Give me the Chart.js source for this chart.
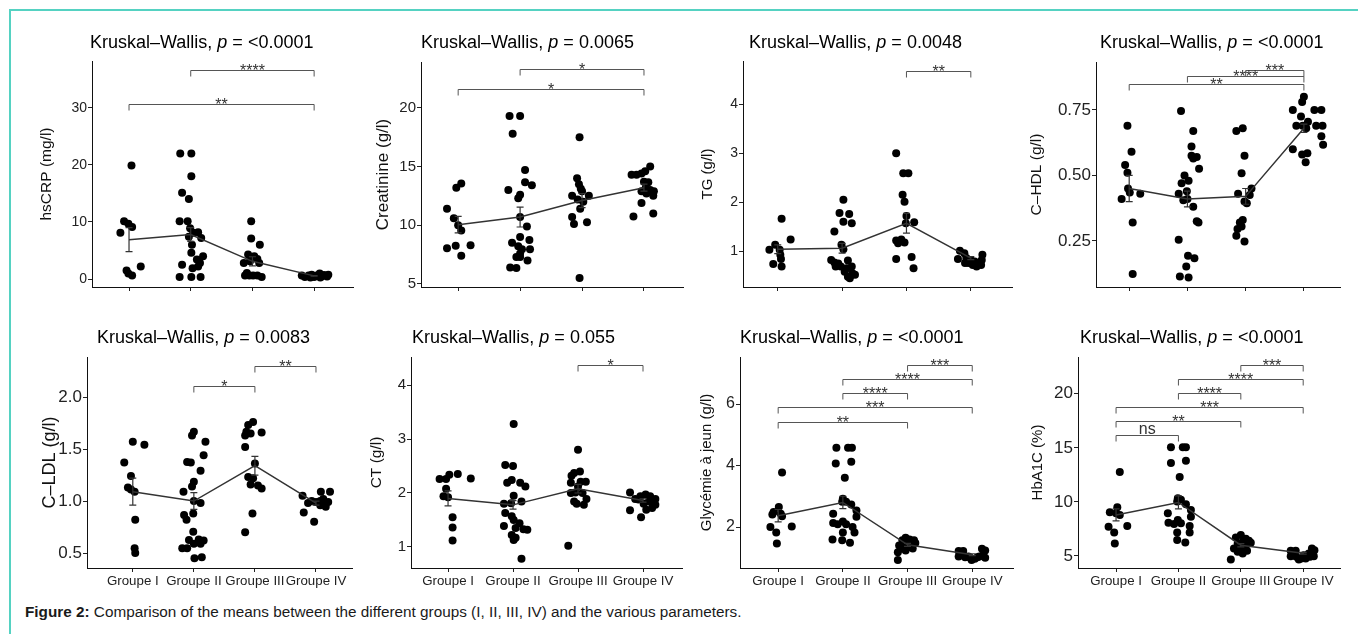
<!DOCTYPE html>
<html><head><meta charset="utf-8">
<script src="https://cdn.jsdelivr.net/npm/chart.js@4.4.1/dist/chart.umd.min.js"></script>
<style>
html,body{margin:0;padding:0;background:#fff;}
body{width:1358px;height:634px;position:relative;overflow:hidden;font-family:"Liberation Sans",Arial,sans-serif;}
canvas{position:absolute;left:0;top:0;}
#frameTop{position:absolute;left:9px;top:9px;width:1349px;height:0;border-top:2px solid #55d2c2;}
#frameLeft{position:absolute;left:9px;top:9px;width:0;height:625px;border-left:2px solid #55d2c2;}
#caption{position:absolute;left:25px;top:603px;font-size:15.3px;color:#1a1a1a;white-space:nowrap;}
</style></head><body>
<div id="frameTop"></div><div id="frameLeft"></div>
<div id="caption"><b>Figure 2:</b> Comparison of the means between the different groups (I, II, III, IV) and the various parameters.</div>
<script>
const FAM = '"Liberation Sans", Arial, sans-serif';
const groups = ['Groupe I', 'Groupe II', 'Groupe III', 'Groupe IV'];

// ---------- hsCRP ----------
const hsCRP_vals = [
  [19.9, 10.1, 9.7, 9.1, 8.1, 1.5, 0.95, 0.6, 2.2],
  [22.0, 22.0, 18.0, 15.1, 14.0, 10.1, 10.1, 8.9, 8.1, 8.2, 7.4, 7.2, 6.0, 4.6, 4.0, 3.4, 2.5, 2.8, 1.9, 2.2, 0.35, 0.35, 0.35],
  [10.1, 7.1, 6.0, 4.3, 4.0, 3.5, 3.1, 2.8, 2.8, 0.6, 0.6, 0.6, 0.6, 0.35, 1.05],
  [0.6, 0.35, 0.6, 0.75, 0.35, 0.6, 0.95, 0.45, 0.7, 0.45, 0.75, 0.25, 0.25]
];
const hsCRP_jit = [
  [0.04, -0.08, -0.01, 0.05, -0.14, -0.04, -0.01, 0.05, 0.19],
  [-0.17, 0.01, 0.01, -0.14, -0.03, -0.18, -0.05, -0.01, 0.04, 0.12, -0.03, 0.17, 0.02, 0.01, 0.2, 0.1, -0.14, 0.15, 0.03, 0.12, -0.18, 0.01, 0.16],
  [-0.02, -0.02, 0.12, -0.07, 0.03, 0.08, -0.04, -0.14, 0.11, -0.12, -0.05, 0.01, 0.08, 0.15, -0.09],
  [-0.2, -0.15, -0.09, -0.04, 0.0, 0.04, 0.09, 0.12, 0.16, 0.21, 0.23, 0.1, -0.06]
];
const hsCRP_mean = [6.9, 7.8, 3.1, 0.55];
const hsCRP_se = [2.1, 1.2, 0.8, 0.06];
const hsCRP_ticks = [0, 10, 20, 30];
const hsCRP_tickLabels = ['0', '10', '20', '30'];
const hsCRP_sig = [[2, 4, 36.7, '****'], [1, 4, 30.6, '**']];

// ---------- Creatinine ----------
const creat_vals = [
  [11.4, 13.2, 13.55, 10.6, 10.0, 9.55, 8.05, 8.25, 8.3, 7.4],
  [19.3, 19.3, 17.8, 14.7, 13.0, 13.65, 13.4, 12.6, 12.3, 10.7, 9.9, 9.0, 8.75, 8.5, 8.2, 7.95, 7.95, 7.6, 7.3, 7.3, 7.0, 6.4, 6.35],
  [17.5, 14.0, 13.5, 13.1, 12.9, 12.5, 12.5, 12.2, 12.0, 11.4, 10.7, 10.1, 10.25, 5.5],
  [15.0, 14.3, 14.3, 14.4, 14.6, 13.7, 13.65, 13.2, 13.0, 12.9, 12.9, 12.7, 12.5, 10.75, 11.9, 11.0]
];
const creat_jit = [
  [-0.18, -0.03, 0.05, -0.07, 0.0, 0.05, -0.18, -0.04, 0.2, 0.05],
  [-0.17, 0.0, -0.12, 0.08, -0.19, 0.08, 0.19, 0.0, -0.03, 0.0, 0.11, 0.0, 0.15, -0.13, -0.03, 0.03, 0.16, 0.0, -0.06, 0.0, 0.12, -0.16, -0.06],
  [-0.04, -0.08, -0.05, -0.02, 0.0, -0.16, 0.11, -0.07, 0.02, -0.03, -0.16, -0.13, 0.08, -0.04],
  [0.1, -0.2, -0.12, -0.04, 0.02, 0.0, 0.07, 0.03, 0.1, -0.04, 0.16, 0.04, 0.15, -0.17, -0.04, 0.15]
];
const creat_mean = [10.05, 10.7, 12.1, 13.2];
const creat_se = [0.7, 0.85, 0.6, 0.3];
const creat_ticks = [5, 10, 15, 20];
const creat_tickLabels = ['5', '10', '15', '20'];
const creat_sig = [[2, 4, 23.3, '*'], [1, 4, 21.6, '*']];

// ---------- TG ----------
const tg_vals = [
  [1.66, 1.24, 1.13, 1.03, 1.03, 0.93, 0.84, 0.74, 0.69],
  [2.05, 1.78, 1.76, 1.6, 1.57, 1.4, 1.13, 1.04, 0.82, 0.77, 0.81, 0.69, 0.69, 0.65, 0.69, 0.58, 0.55, 0.48, 0.45, 0.52, 0.75],
  [3.0, 2.59, 2.59, 2.15, 2.01, 1.72, 1.59, 1.57, 1.24, 1.22, 1.18, 1.16, 0.84, 0.88, 0.65],
  [1.01, 0.96, 0.84, 0.86, 0.76, 0.72, 0.79, 0.76, 0.82, 0.93, 0.82, 0.76, 0.69, 0.72]
];
const tg_jit = [
  [0.06, 0.2, -0.04, -0.13, 0.03, 0.04, 0.05, -0.07, 0.06],
  [0.02, -0.04, 0.11, 0.02, 0.15, -0.12, -0.01, 0.02, -0.17, -0.12, 0.09, -0.02, -0.1, 0.07, 0.15, 0.04, 0.16, 0.09, 0.12, 0.2, -0.06],
  [-0.16, -0.05, 0.03, -0.06, -0.03, 0.0, 0.12, -0.01, -0.08, -0.16, -0.03, -0.13, -0.16, 0.08, 0.11],
  [-0.17, -0.1, -0.2, -0.07, -0.04, 0.03, 0.06, 0.11, 0.17, 0.18, 0.0, -0.09, 0.09, 0.16]
];
const tg_mean = [1.04, 1.06, 1.57, 0.86];
const tg_se = [0.09, 0.1, 0.2, 0.03];
const tg_ticks = [1, 2, 3, 4];
const tg_tickLabels = ['1', '2', '3', '4'];
const tg_sig = [[3, 4, 4.68, '**']];

// ---------- C-HDL ----------
const hdl_vals = [
  [0.69, 0.59, 0.54, 0.51, 0.45, 0.43, 0.435, 0.41, 0.32, 0.124],
  [0.746, 0.67, 0.61, 0.575, 0.57, 0.565, 0.525, 0.47, 0.50, 0.48, 0.43, 0.44, 0.41, 0.405, 0.38, 0.325, 0.32, 0.254, 0.193, 0.184, 0.152, 0.114, 0.11],
  [0.67, 0.68, 0.575, 0.508, 0.43, 0.425, 0.45, 0.40, 0.394, 0.33, 0.32, 0.295, 0.305, 0.27, 0.248],
  [0.80, 0.78, 0.75, 0.75, 0.75, 0.725, 0.705, 0.69, 0.69, 0.69, 0.69, 0.68, 0.65, 0.617, 0.60, 0.58, 0.585, 0.55]
];
const hdl_jit = [
  [-0.03, 0.04, -0.07, -0.03, -0.02, 0.19, 0.01, -0.13, 0.06, 0.06],
  [-0.11, 0.1, 0.07, 0.07, 0.16, 0.1, 0.2, -0.1, -0.05, 0.02, -0.15, -0.01, 0.0, -0.07, 0.1, 0.16, 0.19, -0.15, 0.01, 0.12, -0.02, -0.13, 0.02],
  [-0.16, -0.05, -0.02, -0.07, -0.13, 0.07, 0.1, -0.02, 0.02, -0.05, -0.1, -0.14, -0.07, -0.16, -0.02],
  [0.0, -0.03, -0.19, 0.18, 0.3, -0.05, 0.07, -0.13, -0.02, 0.21, 0.32, 0.04, 0.3, 0.33, -0.19, -0.03, 0.06, 0.03]
];
const hdl_mean = [0.45, 0.41, 0.42, 0.68];
const hdl_se = [0.05, 0.03, 0.03, 0.016];
const hdl_ticks = [0.25, 0.50, 0.75];
const hdl_tickLabels = ['0.25', '0.50', '0.75'];
const hdl_sig = [[3, 4, 0.903, '***'], [2, 4, 0.881, '****'], [1, 4, 0.848, '**']];

// ---------- C-LDL ----------
const ldl_vals = [
  [1.37, 1.57, 1.54, 1.24, 1.13, 1.11, 1.09, 0.82, 0.545, 0.5],
  [1.665, 1.63, 1.57, 1.375, 1.37, 1.44, 1.29, 1.185, 1.14, 1.09, 0.98, 1.0, 0.866, 0.82, 0.88, 0.705, 0.625, 0.63, 0.62, 0.59, 0.59, 0.545, 0.545, 0.45, 0.46],
  [1.76, 1.73, 1.665, 1.65, 1.63, 1.66, 1.52, 1.36, 1.23, 1.22, 1.16, 1.15, 1.12, 0.88, 0.70],
  [1.05, 1.09, 1.09, 0.98, 1.0, 0.99, 1.0, 0.98, 0.99, 1.02, 0.945, 0.96, 0.89, 0.80]
];
const ldl_jit = [
  [-0.14, 0.0, 0.19, -0.03, -0.08, -0.03, 0.03, 0.04, 0.03, 0.04],
  [0.0, -0.03, 0.19, -0.11, -0.05, 0.16, 0.11, 0.0, -0.03, -0.17, 0.11, 0.0, -0.16, -0.12, -0.01, -0.01, -0.08, 0.08, 0.16, 0.0, 0.11, -0.19, -0.11, 0.01, 0.13],
  [-0.03, -0.11, -0.14, -0.07, -0.16, 0.11, -0.16, 0.0, -0.11, -0.03, -0.07, 0.05, 0.11, -0.04, -0.16],
  [-0.22, 0.08, 0.23, -0.13, -0.07, 0.0, 0.07, 0.15, 0.2, 0.12, 0.16, 0.07, -0.2, -0.03]
];
const ldl_mean = [1.09, 1.0, 1.34, 0.98];
const ldl_se = [0.13, 0.08, 0.09, 0.02];
const ldl_ticks = [0.5, 1.0, 1.5, 2.0];
const ldl_tickLabels = ['0.5', '1.0', '1.5', '2.0'];
const ldl_sig = [[3, 4, 2.30, '**'], [2, 3, 2.11, '*']];

// ---------- CT ----------
const ct_vals = [
  [2.26, 2.26, 2.34, 2.35, 2.27, 2.08, 1.94, 1.92, 1.55, 1.36, 1.12],
  [3.28, 2.52, 2.50, 2.19, 2.24, 2.19, 2.12, 1.95, 1.84, 1.81, 1.8, 1.63, 1.57, 1.5, 1.44, 1.39, 1.35, 1.33, 1.32, 1.22, 1.17, 1.13, 0.78],
  [2.80, 2.37, 2.40, 2.32, 2.21, 2.19, 2.21, 2.12, 2.01, 2.0, 2.0, 1.89, 1.84, 1.78, 1.8, 1.02],
  [2.01, 1.68, 1.55, 1.89, 1.94, 1.97, 1.94, 1.89, 1.84, 1.8, 1.8, 1.72, 1.69, 1.78, 1.88]
];
const ct_jit = [
  [-0.13, -0.03, 0.02, 0.15, 0.35, -0.03, -0.07, 0.0, 0.07, 0.07, 0.07],
  [0.01, -0.12, 0.0, -0.09, -0.02, 0.11, 0.19, 0.01, 0.13, -0.03, -0.14, -0.12, -0.02, 0.01, 0.1, -0.14, 0.04, 0.16, 0.22, -0.02, 0.04, 0.01, 0.13],
  [0.0, -0.06, 0.03, -0.1, 0.12, -0.11, 0.04, 0.0, -0.04, 0.07, -0.11, 0.13, -0.06, 0.09, -0.02, -0.15],
  [-0.2, -0.2, -0.03, -0.12, -0.04, 0.04, 0.11, 0.19, 0.09, 0.16, 0.01, 0.14, 0.05, 0.19, -0.07]
];
const ct_mean = [1.9, 1.78, 2.08, 1.86];
const ct_se = [0.14, 0.08, 0.08, 0.03];
const ct_ticks = [1, 2, 3, 4];
const ct_tickLabels = ['1', '2', '3', '4'];
const ct_sig = [[3, 4, 4.38, '*']];

// ---------- Glycémie à jeun ----------
const gly_vals = [
  [3.77, 2.65, 2.49, 2.43, 2.41, 2.35, 2.0, 2.02, 1.82, 1.46],
  [4.58, 4.58, 4.58, 4.07, 4.12, 3.6, 2.92, 2.82, 2.82, 2.43, 2.73, 2.54, 2.33, 2.13, 2.09, 2.18, 2.09, 2.0, 1.82, 1.82, 1.59, 1.57, 1.49],
  [0.93, 1.57, 1.65, 1.59, 1.57, 1.4, 1.45, 1.35, 1.48, 1.3, 1.24, 1.4, 1.18, 1.3],
  [1.22, 1.22, 1.04, 1.02, 1.0, 0.97, 1.02, 1.04, 1.29, 1.24, 1.07, 1.0, 0.93, 1.04]
];
const gly_jit = [
  [0.06, 0.01, -0.07, 0.04, -0.09, 0.06, -0.12, 0.21, -0.03, -0.02],
  [-0.1, 0.08, 0.14, -0.11, 0.13, 0.03, 0.0, -0.01, 0.05, -0.15, 0.13, 0.21, 0.21, -0.15, -0.08, 0.0, 0.05, 0.15, 0.0, 0.18, -0.16, -0.01, 0.11],
  [-0.15, -0.08, -0.03, 0.03, 0.1, -0.13, -0.05, 0.03, 0.12, -0.1, -0.03, 0.05, -0.15, 0.08],
  [-0.21, -0.14, -0.21, -0.11, -0.03, 0.04, 0.08, 0.11, 0.15, 0.2, 0.16, 0.2, -0.01, -0.06]
];
const gly_mean = [2.37, 2.8, 1.42, 1.1];
const gly_se = [0.2, 0.2, 0.05, 0.03];
const gly_ticks = [2, 4, 6];
const gly_tickLabels = ['2', '4', '6'];
const gly_sig = [[3, 4, 7.27, '***'], [2, 4, 6.82, '****'], [2, 3, 6.35, '****'], [1, 4, 5.89, '***'], [1, 3, 5.42, '**']];

// ---------- HbA1C ----------
const hba_vals = [
  [12.76, 9.5, 9.04, 8.95, 8.8, 7.7, 7.77, 7.18, 6.16],
  [15.05, 15.05, 15.05, 13.6, 13.8, 12.3, 10.34, 10.03, 10.2, 8.95, 9.78, 9.26, 8.64, 8.08, 7.96, 8.33, 8.02, 7.77, 7.18, 7.18, 6.47, 6.25],
  [4.68, 6.72, 6.93, 6.6, 6.16, 6.32, 6.4, 5.7, 5.7, 5.85, 6.16, 5.4, 5.23, 5.48, 6.22],
  [5.48, 5.48, 4.98, 4.92, 4.77, 4.77, 4.92, 5.7, 5.54, 4.98, 5.23, 5.08, 4.68]
];
const hba_jit = [
  [0.06, 0.02, -0.1, 0.0, 0.06, -0.12, 0.18, -0.03, -0.02],
  [-0.12, 0.07, 0.12, -0.12, 0.12, 0.02, -0.01, -0.02, 0.04, -0.17, 0.12, 0.2, 0.2, -0.16, -0.07, -0.01, 0.04, 0.18, -0.02, 0.18, -0.02, 0.11],
  [-0.16, -0.08, 0.0, 0.08, -0.05, 0.03, 0.13, -0.11, -0.01, 0.05, 0.12, -0.05, 0.03, 0.1, 0.16],
  [-0.2, -0.12, -0.2, -0.11, -0.03, 0.04, 0.11, 0.14, 0.18, 0.17, 0.09, 0.01, -0.07]
];
const hba_mean = [8.8, 9.95, 6.0, 5.25];
const hba_se = [0.55, 0.6, 0.15, 0.08];
const hba_ticks = [5, 10, 15, 20];
const hba_tickLabels = ['5', '10', '15', '20'];
const hba_sig = [[3, 4, 22.7, '***'], [2, 4, 21.4, '****'], [2, 3, 20.1, '****'], [1, 4, 18.8, '***'], [1, 3, 17.5, '**'], [1, 2, 16.2, 'ns']];

// ---------- panel layout (pixel boxes and axis ranges) ----------
const panels = [
  {yTitle: 'hsCRP (mg/l)', p: '<0.0001', vals: hsCRP_vals, jit: hsCRP_jit, mean: hsCRP_mean, se: hsCRP_se, ticks: hsCRP_ticks, tickLabels: hsCRP_tickLabels, sig: hsCRP_sig,
   box: [92, 353, 61, 287], yr: [-1.4, 38.2], xr: [0.4, 4.63], titleX: 90, titleY: 48, yTitleX: 47, yTitleSize: 15.5, tickSize: 14, xLabels: false},
  {yTitle: 'Creatinine (g/l)', p: '0.0065', vals: creat_vals, jit: creat_jit, mean: creat_mean, se: creat_se, ticks: creat_ticks, tickLabels: creat_tickLabels, sig: creat_sig,
   box: [421, 683, 62, 287], yr: [4.74, 23.9], xr: [0.4, 4.63], titleX: 421, titleY: 48, yTitleX: 383, yTitleSize: 17, tickSize: 15, xLabels: false},
  {yTitle: 'TG (g/l)', p: '0.0048', vals: tg_vals, jit: tg_jit, mean: tg_mean, se: tg_se, ticks: tg_ticks, tickLabels: tg_tickLabels, sig: tg_sig,
   box: [743, 1012, 61, 287], yr: [0.27, 4.88], xr: [0.46, 4.64], titleX: 749, titleY: 48, yTitleX: 708, yTitleSize: 15, tickSize: 14, xLabels: false},
  {yTitle: 'C\u2013HDL (g/l)', p: '<0.0001', vals: hdl_vals, jit: hdl_jit, mean: hdl_mean, se: hdl_se, ticks: hdl_ticks, tickLabels: hdl_tickLabels, sig: hdl_sig,
   box: [1096, 1340, 62, 287], yr: [0.074, 0.933], xr: [0.43, 4.62], titleX: 1100, titleY: 48, yTitleX: 1037, yTitleSize: 15.5, tickSize: 17, xLabels: false},
  {yTitle: 'C\u2013LDL (g/l)', p: '0.0083', vals: ldl_vals, jit: ldl_jit, mean: ldl_mean, se: ldl_se, ticks: ldl_ticks, tickLabels: ldl_tickLabels, sig: ldl_sig,
   box: [87, 352, 357, 568], yr: [0.356, 2.385], xr: [0.25, 4.59], titleX: 97, titleY: 343, yTitleX: 50, yTitleSize: 18, tickSize: 17, xLabels: true},
  {yTitle: 'CT (g/l)', p: '0.055', vals: ct_vals, jit: ct_jit, mean: ct_mean, se: ct_se, ticks: ct_ticks, tickLabels: ct_tickLabels, sig: ct_sig,
   box: [411, 682, 357, 568], yr: [0.61, 4.52], xr: [0.43, 4.6], titleX: 412, titleY: 343, yTitleX: 377, yTitleSize: 15.5, tickSize: 15, xLabels: true},
  {yTitle: 'Glyc\u00e9mie \u00e0 jeun (g/l)', p: '<0.0001', vals: gly_vals, jit: gly_jit, mean: gly_mean, se: gly_se, ticks: gly_ticks, tickLabels: gly_tickLabels, sig: gly_sig,
   box: [740, 1013, 357, 568], yr: [0.667, 7.53], xr: [0.41, 4.63], titleX: 740, titleY: 343, yTitleX: 707, yTitleSize: 15, tickSize: 16, xLabels: true},
  {yTitle: 'HbA1C (%)', p: '<0.0001', vals: hba_vals, jit: hba_jit, mean: hba_mean, se: hba_se, ticks: hba_ticks, tickLabels: hba_tickLabels, sig: hba_sig,
   box: [1078, 1340, 357, 568], yr: [3.89, 23.4], xr: [0.39, 4.59], titleX: 1080, titleY: 343, yTitleX: 1038, yTitleSize: 15, tickSize: 17, xLabels: true}
];

const W = 1358, H = 634;

function overlayPlugin(P) {
  return {
    id: 'overlay',
    afterDatasetsDraw(chart) {
      const ctx = chart.ctx, xs = chart.scales.x, ys = chart.scales.y;
      ctx.save();
      // error bars (mean +/- se)
      ctx.strokeStyle = '#333'; ctx.lineWidth = 1.2;
      P.mean.forEach((m, i) => {
        const x = xs.getPixelForValue(i + 1);
        const y1 = ys.getPixelForValue(m + P.se[i]);
        const y2 = ys.getPixelForValue(m - P.se[i]);
        ctx.beginPath();
        ctx.moveTo(x, y1); ctx.lineTo(x, y2);
        ctx.moveTo(x - 3.5, y1); ctx.lineTo(x + 3.5, y1);
        ctx.moveTo(x - 3.5, y2); ctx.lineTo(x + 3.5, y2);
        ctx.stroke();
      });
      // significance brackets
      ctx.strokeStyle = '#555'; ctx.lineWidth = 1;
      ctx.fillStyle = '#333'; ctx.textAlign = 'center'; ctx.textBaseline = 'alphabetic';
      P.sig.forEach(([a, b, v, lab]) => {
        const x1 = xs.getPixelForValue(a), x2 = xs.getPixelForValue(b);
        const y = Math.round(ys.getPixelForValue(v)) + 0.5;
        ctx.beginPath();
        ctx.moveTo(x1, y + 6); ctx.lineTo(x1, y); ctx.lineTo(x2, y); ctx.lineTo(x2, y + 6);
        ctx.stroke();
        ctx.font = (lab === 'ns' ? '16px ' : '16px ') + FAM;
        ctx.fillText(lab, (x1 + x2) / 2, lab === 'ns' ? y - 2 : y + 5);
      });
      // title with italic p
      ctx.fillStyle = '#000'; ctx.textAlign = 'left';
      let x = P.titleX;
      [['Kruskal\u2013Wallis, ', 'normal'], ['p', 'italic'], [' = ' + P.p, 'normal']].forEach(([t, st]) => {
        ctx.font = st + ' 18px ' + FAM;
        ctx.fillText(t, x, P.titleY);
        x += ctx.measureText(t).width;
      });
      ctx.restore();
    }
  };
}

panels.forEach((P, k) => {
  const cv = document.createElement('canvas');
  cv.width = W; cv.height = H;
  cv.style.width = W + 'px'; cv.style.height = H + 'px';
  document.body.appendChild(cv);
  const [L, R, T, B] = P.box;
  const xH = P.xLabels ? 26 : 8;
  const scaleLeft = P.yTitleX - 0.6 * P.yTitleSize;
  const yW = L - scaleLeft;
  const pts = [];
  P.vals.forEach((arr, g) => arr.forEach((v, i) => pts.push({x: g + 1 + P.jit[g][i], y: v})));
  const axisGrid = {display: true, drawOnChartArea: false, drawTicks: true, tickLength: 4, color: '#222', lineWidth: 1};
  const axisBorder = {display: true, color: '#111', width: 1};
  new Chart(cv.getContext('2d'), {
    type: 'scatter',
    data: {
      datasets: [
        {type: 'line', data: P.mean.map((m, i) => ({x: i + 1, y: m})), borderColor: '#333', borderWidth: 1.5, pointRadius: 0, fill: false, order: 1},
        {type: 'scatter', data: pts, pointRadius: 4, pointHoverRadius: 4, backgroundColor: '#000', borderWidth: 0, order: 2}
      ]
    },
    options: {
      responsive: false, animation: false, events: [],
      layout: {padding: {left: scaleLeft, right: W - R, top: T, bottom: H - B - xH}},
      plugins: {legend: {display: false}, tooltip: {enabled: false}, title: {display: false}},
      scales: {
        x: {
          type: 'linear', min: P.xr[0], max: P.xr[1], bounds: 'data',
          afterBuildTicks: s => { s.ticks = [1, 2, 3, 4].map(v => ({value: v})); },
          afterFit: s => { s.height = xH; s.paddingLeft = 0; s.paddingRight = 0; },
          grid: axisGrid, border: axisBorder,
          ticks: {autoSkip: false, maxRotation: 0, minRotation: 0, padding: 1, color: '#222',
                  font: {family: FAM, size: 13.3}, callback: (v, i) => P.xLabels ? groups[i] : ''}
        },
        y: {
          type: 'linear', min: P.yr[0], max: P.yr[1], bounds: 'data',
          afterBuildTicks: s => { s.ticks = P.ticks.map(v => ({value: v})); },
          afterFit: s => { s.width = yW; s.paddingTop = 0; s.paddingBottom = 0; },
          grid: axisGrid, border: axisBorder,
          ticks: {autoSkip: false, padding: 1, color: '#222', font: {family: FAM, size: P.tickSize},
                  callback: (v, i) => P.tickLabels[i]},
          title: {display: true, text: P.yTitle, color: '#111', padding: 0, font: {family: FAM, size: P.yTitleSize}}
        }
      }
    },
    plugins: [overlayPlugin(P)]
  });
});
</script>
</body></html>
